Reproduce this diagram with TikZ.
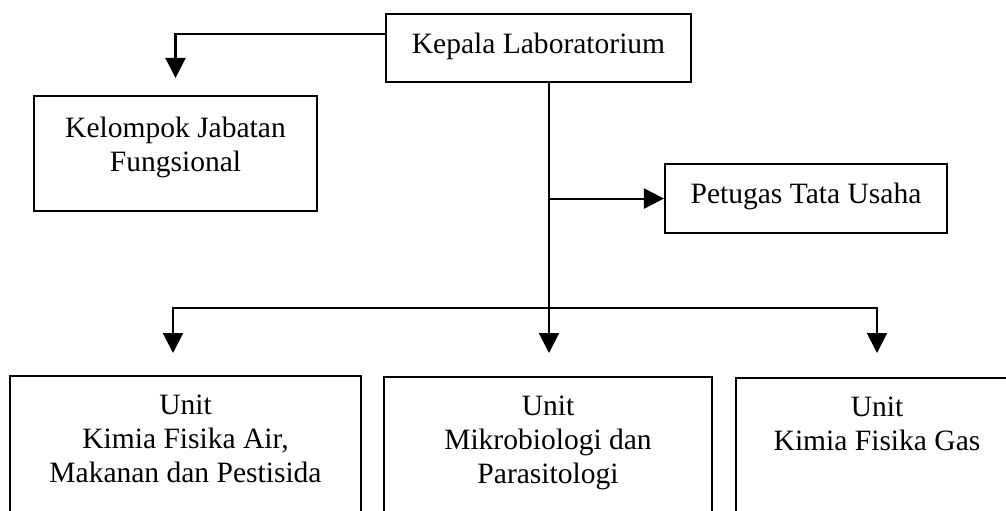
\documentclass[tikz,border=0pt]{standalone}
\usepackage{fontspec}
\setmainfont{Liberation Serif}
\usetikzlibrary{calc, positioning}
\usetikzlibrary{arrows.meta}

\begin{document}
\begin{tikzpicture}[
  kotak/.style={draw, line width=1.5pt, anchor=north, inner sep=0pt},
  teks/.style={align=center, inner sep=0pt, font=\fontsize{21}{24}\selectfont},
  garis/.style={line width=1.5pt},
  panah/.style={line width=1.5pt, -{Triangle[length=0.5cm, width=0.5cm]}}
]
\useasboundingbox (0,0) rectangle (25.15,12.75);
\clip (0,0) rectangle (25.15,12.75);

\coordinate (ujungA) at (4.325,3.925);
\coordinate (ujungB) at (13.725,3.925);
\coordinate (ujungC) at (21.925,3.925);
\coordinate (cabang) at (13.725,5.05);

\node[kotak, minimum width=7.625cm, minimum height=1.7cm] (kepala) at (13.4625,12.425) {};
\node[kotak, minimum width=7.075cm, minimum height=2.875cm] (kelompok) at (4.3875,10.375) {};
\node[kotak, minimum width=7.05cm, minimum height=1.725cm] (petugas) at (20.15,8.675) {};
\node[kotak, minimum width=8.775cm, minimum height=3.6cm] (airpangan) at (4.6375,3.375) {};
\node[kotak, minimum width=8.2cm, minimum height=3.6cm] (mikro) at (13.7,3.35) {};
\node[kotak, anchor=north west, minimum width=8cm, minimum height=3.6cm] (gas) at (18.375,3.325) {};
\coordinate (atasgas) at (gas.north -| ujungC);

\node[teks, below=0.5cm of kepala.north] (tkepala) {Kepala Laboratorium};
\node[teks, below=0.55cm of kelompok.north] (tkelompok) {Kelompok Jabatan\\Fungsional};
\node[teks, below=0.5cm of petugas.north] (tpetugas) {Petugas Tata Usaha};
\node[teks, below=0.5cm of airpangan.north] (tairpangan) {Unit\\Kimia Fisika Air,\\Makanan dan Pestisida};
\node[teks, below=0.5cm of mikro.north] (tmikro) {Unit\\Mikrobiologi dan\\Parasitologi};
\node[teks, below=0.5cm of atasgas] (tgas) {Unit\\Kimia Fisika Gas};

\draw[panah] ([yshift=-0.525cm]kepala.north west) -| ([yshift=0.425cm]kelompok.north);
\draw[panah] (kepala.south -| ujungB) -- (ujungB);
\draw[panah] (petugas.west -| ujungB) -- (petugas.west);
\draw[garis, {Triangle[length=0.5cm, width=0.5cm]}-{Triangle[length=0.5cm, width=0.5cm]}]
  (ujungA) |- (ujungC |- cabang) -- (ujungC);
\end{tikzpicture}
\end{document}
